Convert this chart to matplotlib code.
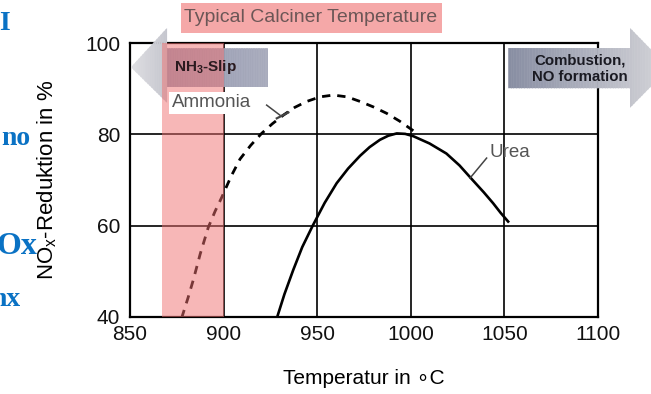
import numpy as np
import matplotlib
matplotlib.use("Agg")
import matplotlib.pyplot as plt
from matplotlib.patches import Polygon, Rectangle

plt.rcParams['font.family'] = ['Liberation Sans', 'DejaVu Sans']
plt.rcParams['mathtext.default'] = 'regular'

# data (temperature in C, NOx reduction in %)
ammonia_temp = [877.6, 881.0, 883.8, 887.5, 891.8, 895.5, 899.0, 904.0, 908.8, 914.5,
                920.3, 926.0, 931.9, 938.0, 944.4, 951.5, 958.6, 966.0, 972.9, 980.0,
                987.1, 994.0, 1002.0]
ammonia_nox = [39.8, 44.2, 48.1, 53.8, 59.6, 63.2, 66.2, 70.8, 74.6, 77.6,
               80.2, 82.3, 84.2, 85.9, 87.2, 88.2, 88.6, 88.2, 87.2, 86.0,
               84.6, 82.9, 80.6]
urea_temp = [928.4, 932.5, 937.2, 942.0, 947.6, 954.0, 960.4, 966.5, 972.9, 978.0,
             983.5, 988.0, 992.5, 997.0, 1001.3, 1010.0, 1019.0, 1026.0, 1033.0,
             1039.0, 1044.0, 1048.0, 1052.0]
urea_nox = [39.7, 45.0, 50.3, 55.3, 60.0, 65.0, 69.3, 72.5, 75.3, 77.2,
            78.8, 79.7, 80.2, 80.1, 79.6, 78.0, 75.8, 73.2, 70.0,
            67.3, 64.9, 62.8, 60.9]

calciner_range = (867.0, 900.0)
x_ticks = [850, 900, 950, 1000, 1050, 1100]
y_ticks = [40, 60, 80, 100]

fig = plt.figure(figsize=(6.51, 3.94), dpi=100)
ax = fig.add_axes([130 / 651, 1 - 317 / 394, 468 / 651, 274 / 394])
ax.set_xlim(850, 1100)
ax.set_ylim(40, 100)
ax.set_xticks(x_ticks)
ax.set_yticks(y_ticks)
ax.tick_params(length=0, labelsize=15, colors='#111111')
ax.tick_params(axis='x', pad=6)
ax.tick_params(axis='y', pad=7)
for s in ax.spines.values():
    s.set_linewidth(1.6)
    s.set_color('black')
ax.grid(True, color='black', linewidth=1.2)
ax.set_axisbelow(True)

ax.plot(urea_temp, urea_nox, color='black', lw=1.9, zorder=3)
ax.plot(ammonia_temp, ammonia_nox, color='black', lw=2.0, linestyle=(0, (3.0, 2.5)), zorder=3)

ax.set_xlabel('Temperatur in \u2218C', fontsize=15)
ax.xaxis.label.set_va('center')
ax.xaxis.set_label_coords(0.5, -0.223)
ax.set_ylabel('NO$_x$-Reduktion in %', fontsize=16)
ax.yaxis.label.set_va('center')
ax.yaxis.set_label_coords(-0.177, 0.5)


def gradient_shape(pts, c_left, c_right, z, n=60):
    # arrow shape filled with a left-to-right colour gradient, drawn as thin strips
    poly = Polygon(pts, closed=True, facecolor='none', edgecolor='none',
                   clip_on=False, zorder=z)
    ax.add_patch(poly)
    xs = [p[0] for p in pts]
    ys = [p[1] for p in pts]
    edges = np.linspace(min(xs), max(xs), n + 1)
    for i in range(n):
        t = (i + 0.5) / n
        col = tuple((c_left[k] + (c_right[k] - c_left[k]) * t) / 255.0 for k in range(3))
        strip = Rectangle((edges[i], min(ys)), edges[i + 1] - edges[i], max(ys) - min(ys),
                          facecolor=col, edgecolor=col, lw=0.4, zorder=z)
        strip.set_clip_path(poly)
        ax.add_patch(strip)


# left arrow (NH3 slip)
gradient_shape([(869.0, 98.9), (923.7, 98.9), (923.7, 90.4), (869.0, 90.4)],
               (148, 153, 176), (168, 171, 188), 4)
gradient_shape([(850.5, 94.7), (869.8, 103.3), (869.8, 86.9)],
               (222, 222, 226), (196, 197, 205), 4.1, n=20)
# right arrow (combustion)
gradient_shape([(1051.9, 98.9), (1117.1, 98.9), (1117.1, 103.3), (1138.0, 94.5),
                (1117.1, 85.8), (1117.1, 90.1), (1051.9, 90.1)],
               (135, 141, 162), (214, 214, 218), 4)
ax.set_xlim(850, 1100)
ax.set_ylim(40, 100)

# typical calciner temperature band
ax.axvspan(calciner_range[0], calciner_range[1], color='#f07070', alpha=0.5,
           lw=0, zorder=5)

ax.text(873.5, 94.8, 'NH$_3$-Slip', fontsize=11, fontweight='bold',
        color='#2a1a1f', ha='left', va='center', zorder=6)
ax.text(1090.4, 94.4, 'Combustion,\nNO formation', fontsize=10.8, fontweight='bold',
        color='#1a1a22', ha='center', va='center', multialignment='center',
        linespacing=1.2, zorder=6, clip_on=False)

ax.text(872.5, 86.9, 'Ammonia', fontsize=13.5, color='#555555', ha='left', va='center',
        zorder=7, bbox=dict(facecolor='white', edgecolor='none', pad=2.0))
ax.plot([923.0, 930.1], [86.4, 84.2], color='#444444', lw=1.1, zorder=7)
ax.plot([928.4, 934.6], [83.5, 84.8], color='#444444', lw=1.6, zorder=7)
ax.text(1042.3, 76.1, 'Urea', fontsize=13.5, color='#555555', ha='left', va='center',
        zorder=7)
ax.plot([1040.5, 1031.6], [74.8, 70.4], color='#444444', lw=1.1, zorder=7)

# title box above the plot
fig.patches.append(Rectangle((181 / 651, 1 - 33 / 394), 261 / 651, 30 / 394,
                             transform=fig.transFigure, facecolor='#f5a8a8',
                             edgecolor='none', zorder=1))
fig.text(311 / 651, 1 - 18 / 394, 'Typical Calciner Temperature', fontsize=14,
         color='#6b5656', ha='center', va='center', zorder=2)

# clipped slide text on the left edge
blue = '#0a72c4'
serif = ['Liberation Serif', 'DejaVu Serif']
fig.text(-1 / 651, 1 - 24 / 394, 'I', fontsize=20, fontweight='bold', color=blue,
         family=serif, va='center')
fig.text(1 / 651, 1 - 138 / 394, 'no', fontsize=20, fontweight='bold', color=blue,
         family=serif, va='center')
fig.text(-3 / 651, 1 - 246 / 394, 'Ox', fontsize=23, fontweight='bold', color=blue,
         family=serif, va='center')
fig.text(-9 / 651, 1 - 300 / 394, 'nx', fontsize=20, fontweight='bold', color=blue,
         family=serif, va='center')

fig.savefig('out.png', dpi=100)
